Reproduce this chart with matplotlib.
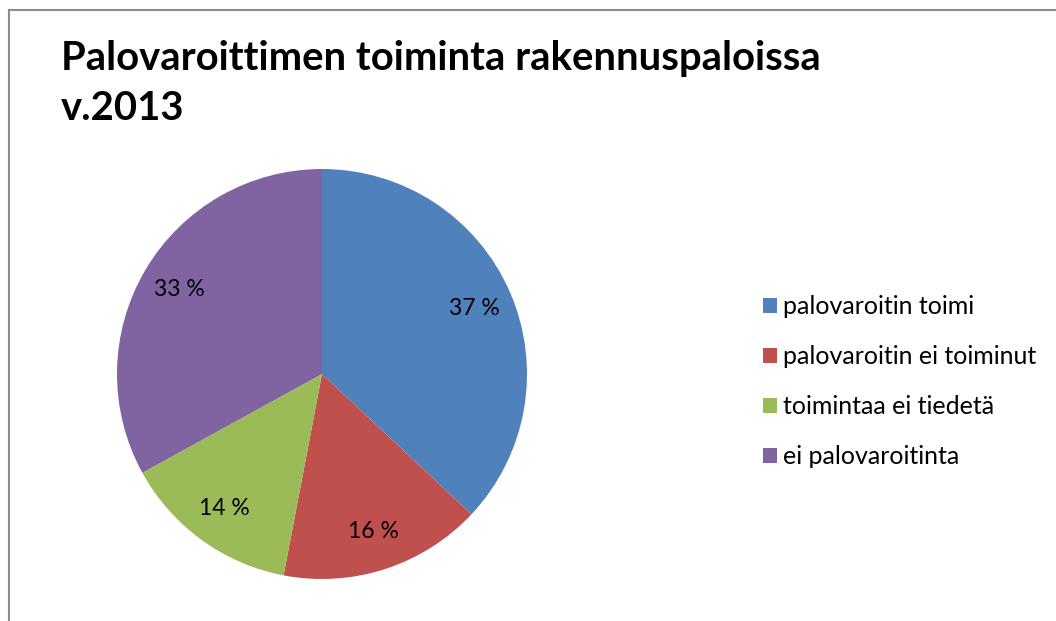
import matplotlib.pyplot as plt
from matplotlib.patches import Patch
from matplotlib.lines import Line2D

# data
labels = ['palovaroitin toimi', 'palovaroitin ei toiminut', 'toimintaa ei tiedetä', 'ei palovaroitinta']
values = [37, 16, 14, 33]
colors = ['#4F81BD', '#C0504D', '#9BBB59', '#8064A2']
title = 'Palovaroittimen toiminta rakennuspaloissa\nv.2013'

plt.rcParams['font.family'] = ['Lato', 'DejaVu Sans']

W, H = 1056, 621
fig = plt.figure(figsize=(W / 100, H / 100), dpi=100)

# chart border (only top and left visible in the crop)
fig.add_artist(Line2D([9 / W, 9 / W], [0, 1 - 10 / H], transform=fig.transFigure, color='#8c8c8c', lw=1.5))
fig.add_artist(Line2D([9 / W, 1], [1 - 10 / H, 1 - 10 / H], transform=fig.transFigure, color='#8c8c8c', lw=1.5))

# pie axes
cx, cy, r = 322, 374, 205
ax = fig.add_axes([(cx - r) / W, (H - cy - r) / H, 2 * r / W, 2 * r / H])
wedges, texts, autotexts = ax.pie(values, colors=colors, startangle=90, counterclock=False,
                                  autopct=lambda p: '%d %%' % round(p), pctdistance=0.81,
                                  wedgeprops=dict(linewidth=0), radius=1,
                                  textprops=dict(fontsize=16.5, color='black'))
ax.set_xlim(-1, 1)
ax.set_ylim(-1, 1)
ax.set_aspect('auto')
ax.axis('off')

fig.text(61 / W, 1 - 40 / H, title, fontsize=28.8, fontweight='bold', va='top', ha='left', linespacing=1.42)

handles = [Patch(facecolor=c, edgecolor='none') for c in colors]
fig.legend(handles, labels, loc='center left', bbox_to_anchor=(763 / W, 1 - 382 / H), frameon=False,
           fontsize=18, handlelength=0.55, handleheight=0.55, handletextpad=0.25, labelspacing=1.08,
           borderpad=0, borderaxespad=0)

plt.savefig('out.png', dpi=100)
